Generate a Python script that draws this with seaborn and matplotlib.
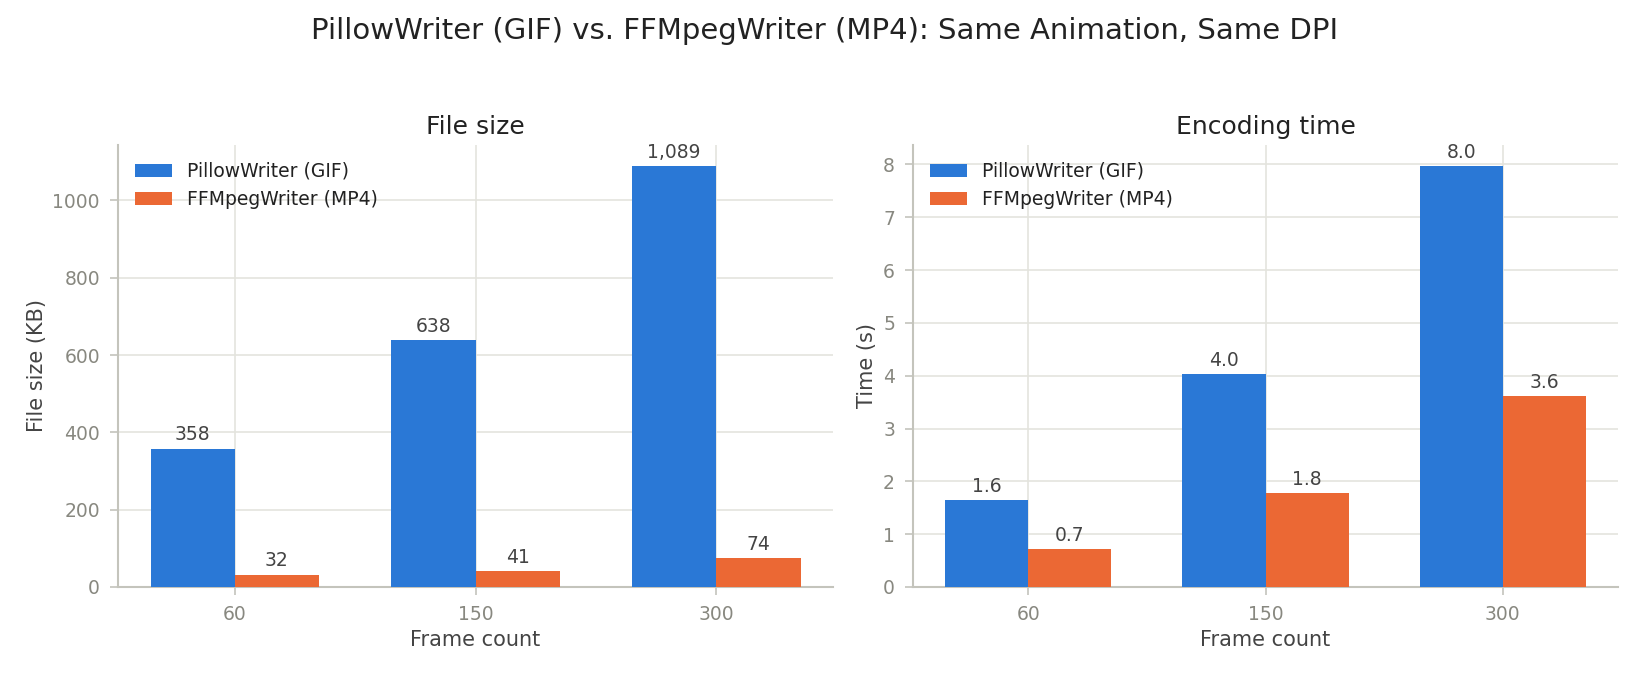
import matplotlib
matplotlib.use("Agg")
import matplotlib.pyplot as plt
import seaborn as sns
import pandas as pd
from matplotlib.ticker import MultipleLocator

frames = ["60", "150", "300"]
writers = ["PillowWriter (GIF)", "FFMpegWriter (MP4)"]
gif_size = [358, 638, 1089]
mp4_size = [32, 41, 74]
gif_time = [1.64, 4.03, 7.97]
mp4_time = [0.72, 1.78, 3.62]

colors = ["#2a78d6", "#eb6834"]

sns.set_theme(style="white")
plt.rcParams["font.family"] = ["DejaVu Sans"]

df_size = pd.DataFrame({
    "frames": frames * 2,
    "writer": [writers[0]] * 3 + [writers[1]] * 3,
    "value": gif_size + mp4_size,
})
df_time = pd.DataFrame({
    "frames": frames * 2,
    "writer": [writers[0]] * 3 + [writers[1]] * 3,
    "value": gif_time + mp4_time,
})

fig = plt.figure(figsize=(16.5, 6.75), dpi=100)
ax1 = fig.add_axes([118/1650, 1 - 587/675, 715/1650, 442/675])
ax2 = fig.add_axes([913/1650, 1 - 587/675, 705/1650, 442/675])

spine_c = "#c4c4bc"
grid_c = "#e4e4de"
tick_c = "#888880"
label_c = "#444444"

def style(ax, df, fmt, ylabel, title, ymax, step):
    sns.barplot(data=df, x="frames", y="value", hue="writer", order=frames,
                hue_order=writers, palette=colors, width=0.7, saturation=1,
                ax=ax, zorder=3, errorbar=None, linewidth=0)
    for c in ax.containers:
        ax.bar_label(c, labels=[fmt(v) for v in c.datavalues], padding=3,
                     fontsize=13.5, color="#444444")
    ax.set_ylim(0, ymax)
    ax.yaxis.set_major_locator(MultipleLocator(step))
    ax.set_xlim(-0.485, 2.485)
    ax.grid(True, color=grid_c, linewidth=1.2, zorder=0)
    ax.set_axisbelow(True)
    for s in ["top", "right"]:
        ax.spines[s].set_visible(False)
    for s in ["left", "bottom"]:
        ax.spines[s].set_color(spine_c)
        ax.spines[s].set_linewidth(1.5)
    ax.tick_params(axis="both", colors=spine_c, labelcolor=tick_c,
                   labelsize=13.5, length=6, width=1.2, pad=7,
                   left=True, bottom=True)
    ax.set_xlabel("Frame count", fontsize=15, color=label_c)
    ax.set_ylabel(ylabel, fontsize=15, color=label_c)
    ax.set_title(title, fontsize=18, color="#222222", pad=8)
    leg = ax.legend(loc="upper left", frameon=False, fontsize=13.5,
                    handlelength=2.0, handleheight=0.7)
    for t in leg.get_texts():
        t.set_color("#222222")

style(ax1, df_size, lambda v: f"{v:,.0f}", "File size (KB)", "File size",
      max(gif_size) * 1.05, 200)
style(ax2, df_time, lambda v: f"{v:.1f}", "Time (s)", "Encoding time",
      max(gif_time) * 1.05, 1)

fig.suptitle("PillowWriter (GIF) vs. FFMpegWriter (MP4): Same Animation, Same DPI",
             fontsize=21, color="#222222", y=0.975)

fig.savefig("out.png", dpi=100, facecolor="white")
